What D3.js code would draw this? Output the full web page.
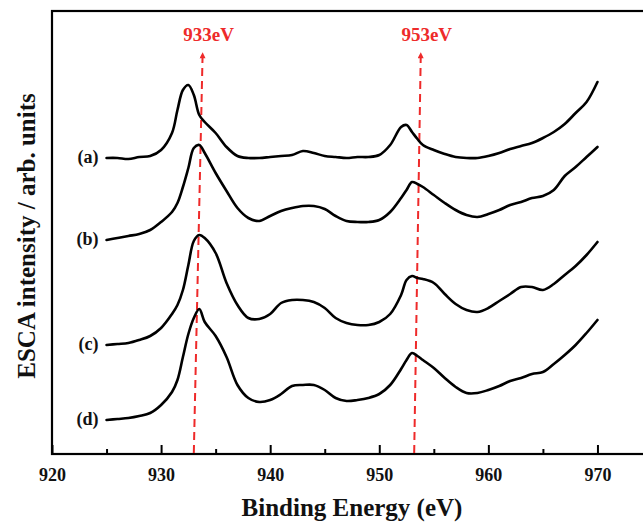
<!DOCTYPE html>
<html>
<head>
<meta charset="utf-8">
<script src="https://cdn.jsdelivr.net/npm/d3@7/dist/d3.min.js"></script>
<style>
    body { margin: 0; background: #fff; }
    svg { display: block; }
    text { font-family: "Liberation Serif", "Times New Roman", serif; font-weight: bold; }
</style>
</head>
<body>
<svg width="643" height="523"></svg>
<script>
    // binding energy grid (eV)
    var energy = [925, 926, 927, 928, 929, 930, 931, 931.5, 932, 932.5, 933, 933.5,
        934, 935, 936, 937, 938, 939, 940, 941, 942, 943, 944, 945, 946, 947, 948, 949,
        950, 951, 952, 952.5, 953, 953.5, 954, 955, 956, 957, 958, 959, 960, 961, 962,
        963, 964, 965, 966, 967, 968, 969, 970];

    // intensities (arb. units, stacked offsets included)
    var seriesA = [296, 296, 295, 297, 298, 304, 321, 344, 364, 369, 359, 339,
        332, 321, 307, 298, 296, 296, 297, 298, 299, 303, 301, 298, 297, 296, 297, 297,
        299, 309, 327, 329, 322, 315, 309, 304, 300, 297, 296, 296, 298, 301, 305,
        308, 311, 316, 322, 330, 341, 352, 372];
    var seriesB = [214, 216, 218, 220, 224, 232, 242, 251, 267, 286, 306, 309,
        301, 281, 263, 246, 236, 233, 238, 243, 246, 248, 248, 245, 238, 233, 232, 232,
        234, 242, 256, 264, 272, 270, 267, 259, 251, 244, 239, 237, 240, 244, 249,
        252, 256, 258, 264, 278, 287, 297, 307];
    var seriesC = [109, 110, 111, 114, 118, 126, 140, 149, 164, 189, 213, 219,
        216, 201, 171, 149, 136, 135, 140, 151, 154, 154, 152, 146, 136, 131, 129, 129,
        132, 140, 159, 174, 178, 176, 175, 171, 160, 150, 144, 142, 146, 153, 160,
        167, 167, 164, 170, 179, 188, 199, 212];
    var seriesD = [34, 35, 36, 38, 41, 49, 62, 74, 97, 120, 136, 145,
        132, 118, 97, 69, 56, 52, 54, 60, 68, 69, 69, 64, 56, 53, 54, 56,
        60, 69, 85, 94, 101, 98, 94, 86, 76, 67, 61, 61, 64, 68, 73,
        76, 80, 82, 90, 99, 109, 121, 134];

    var seriesLabels = ["(a)", "(b)", "(c)", "(d)"];
    var xTicks = [920, 930, 940, 950, 960, 970];
    var xMinorTicks = [925, 935, 945, 955, 965, 975];

    // red peak markers: energy at the axis and at the arrow tip
    var markerLabels = ["933eV", "953eV"];
    var markerBase = [933, 953.2];
    var markerTip = [933.8, 953.8];

    var svg = d3.select("svg"),
        margin = { top: 11, right: -9, bottom: 69, left: 52 },
        width = +svg.attr("width") - margin.left - margin.right,
        height = +svg.attr("height") - margin.top - margin.bottom,
        g = svg.append("g").attr("transform", "translate(" + margin.left + "," + margin.top + ")");

    var x = d3.scaleLinear().domain([920, 975]).range([0, width]);
    var y = d3.scaleLinear().domain([0, 443]).range([height, 0]);

    var line = d3.line()
        .x(function(d) { return x(d.e); })
        .y(function(d) { return y(d.v); })
        .curve(d3.curveCatmullRom.alpha(0.5));

    var allSeries = [seriesA, seriesB, seriesC, seriesD].map(function(vals, i) {
        return {
            label: seriesLabels[i],
            points: vals.map(function(v, j) { return { e: energy[j], v: v }; })
        };
    });

    // red arrow head
    svg.append("defs").append("marker")
        .attr("id", "arrow")
        .attr("viewBox", "0 0 10 10")
        .attr("refX", 2).attr("refY", 5)
        .attr("markerWidth", 9).attr("markerHeight", 6)
        .attr("markerUnits", "userSpaceOnUse")
        .attr("orient", "auto")
        .append("path")
        .attr("d", "M0,0 L10,5 L0,10 Z")
        .attr("fill", "#ee2a2a");

    // frame
    g.append("rect")
        .attr("x", 0).attr("y", 0)
        .attr("width", width).attr("height", height)
        .attr("fill", "none")
        .attr("stroke", "#000")
        .attr("stroke-width", 2.2);

    // x axis, ticks pointing inward
    var xAxis = g.append("g")
        .attr("transform", "translate(0," + height + ")")
        .call(d3.axisBottom(x).tickValues(xTicks).tickSizeInner(-9).tickSizeOuter(0).tickPadding(14).tickFormat(d3.format("d")));
    xAxis.select(".domain").remove();
    xAxis.selectAll(".tick line").attr("stroke-width", 2);
    xAxis.selectAll(".tick text")
        .attr("font-family", "Liberation Serif, serif")
        .attr("font-weight", "bold")
        .attr("font-size", 18)
        .attr("fill", "#111");

    g.append("g")
        .attr("transform", "translate(0," + height + ")")
        .call(d3.axisBottom(x).tickValues(xMinorTicks).tickSizeInner(-5).tickSizeOuter(0).tickFormat(""))
        .call(function(s) { s.select(".domain").remove(); s.selectAll(".tick line").attr("stroke-width", 2); });

    // peak guide lines
    markerLabels.forEach(function(lbl, i) {
        var tipY = 46;
        g.append("line")
            .attr("x1", x(markerBase[i])).attr("y1", height - 1)
            .attr("x2", x(markerTip[i])).attr("y2", tipY)
            .attr("stroke", "#ee2a2a")
            .attr("stroke-width", 2)
            .attr("stroke-dasharray", "8,5")
            .attr("marker-end", "url(#arrow)");
        g.append("text")
            .attr("x", x(markerTip[i]) + 6)
            .attr("y", tipY - 16)
            .attr("text-anchor", "middle")
            .attr("font-size", 19)
            .attr("fill", "#ee2a2a")
            .text(lbl);
    });

    // spectra
    allSeries.forEach(function(s) {
        g.append("path")
            .datum(s.points)
            .attr("fill", "none")
            .attr("stroke", "#000")
            .attr("stroke-width", 2.6)
            .attr("stroke-linejoin", "round")
            .attr("stroke-linecap", "round")
            .attr("d", line);
        g.append("text")
            .attr("x", x(s.points[0].e) - 8)
            .attr("y", y(s.points[0].v) + 5)
            .attr("text-anchor", "end")
            .attr("font-size", 18)
            .attr("fill", "#111")
            .text(s.label);
    });

    // axis titles
    svg.append("text")
        .attr("x", margin.left + x(947.5))
        .attr("y", 516)
        .attr("text-anchor", "middle")
        .attr("font-size", 25)
        .attr("fill", "#111")
        .text("Binding Energy (eV)");

    svg.append("text")
        .attr("transform", "translate(35," + (margin.top + y(218)) + ") rotate(-90)")
        .attr("text-anchor", "middle")
        .attr("font-size", 25)
        .attr("fill", "#111")
        .text("ESCA intensity / arb. units");
</script>
</body>
</html>
